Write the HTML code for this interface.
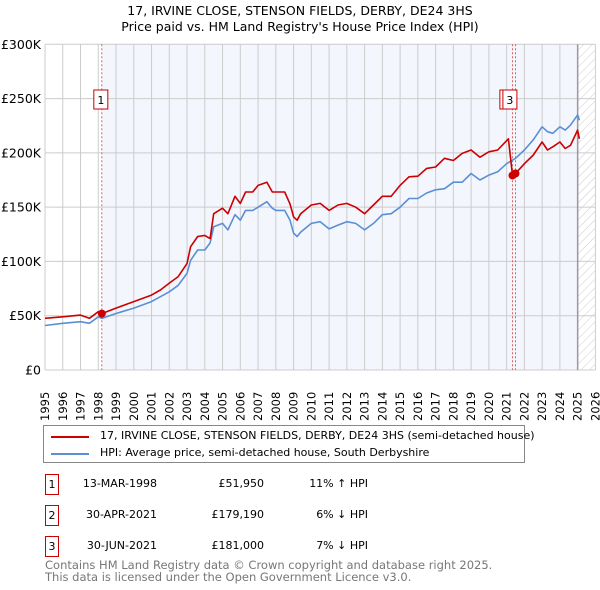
<!DOCTYPE html>
<html><head><meta charset="utf-8"><style>
body{margin:0;background:#fff;font-family:"DejaVu Sans","Liberation Sans",sans-serif;}
#wrap{position:relative;width:600px;height:590px;overflow:hidden;}
.t{position:absolute;white-space:nowrap;color:#000;}
</style></head><body><div id="wrap">
<div class="t" style="left:0;width:600px;text-align:center;top:3px;font-size:12.5px;line-height:16px">17, IRVINE CLOSE, STENSON FIELDS, DERBY, DE24 3HS<br>Price paid vs. HM Land Registry's House Price Index (HPI)</div>
<svg id="chart" width="600" height="425" style="position:absolute;left:0;top:0"></svg>
<div style="position:absolute;left:43px;top:425px;width:480px;height:36px;border:1px solid #888;font-size:11px">
<div style="position:absolute;left:7px;top:10px;width:38px;height:2px;background:#cc0000"></div>
<div class="t" style="left:56px;top:3px">17, IRVINE CLOSE, STENSON FIELDS, DERBY, DE24 3HS (semi-detached house)</div>
<div style="position:absolute;left:7px;top:27px;width:38px;height:2px;background:#5b8fd4"></div>
<div class="t" style="left:56px;top:20px">HPI: Average price, semi-detached house, South Derbyshire</div>
</div>
<div id="tbl"></div>
<div class="t" style="left:45px;top:559px;font-size:11.5px;line-height:12px;color:#777">Contains HM Land Registry data © Crown copyright and database right 2025.<br>This data is licensed under the Open Government Licence v3.0.</div>
</div>
<script>
const hpiYears=[1995,1996,1997,1997.5,1998,1998.2,1999,2000,2000.5,2001,2001.5,2002,2002.5,2003,2003.2,2003.6,2004,2004.3,2004.5,2005,2005.3,2005.7,2006,2006.3,2006.7,2007,2007.5,2007.8,2008,2008.5,2008.8,2009,2009.2,2009.4,2010,2010.5,2011,2011.5,2012,2012.5,2013,2013.5,2014,2014.5,2015,2015.5,2016,2016.5,2017,2017.5,2018,2018.5,2019,2019.5,2020,2020.5,2021,2021.5,2022,2022.5,2023,2023.3,2023.6,2024,2024.3,2024.6,2025,2025.1];
const hpiValues=[41,43,44.5,43,49,47.5,52,57,60,63,67.5,72,78,89,101,110.5,110.5,117,132,135,129,143,138,147,147,150,155,149,147,147,138,126,123,127,135,136.6,130,133.5,136.6,135,129,135,143,144,150,158,158,163,166,167,173,173,181,175,179.5,182.6,190,195,202.6,212,224,219.5,218,224,221,225.6,235,230];
const redYears=[1995,1996,1997,1997.5,1998,1998.2,1999,2000,2001,2001.5,2002,2002.5,2003,2003.2,2003.6,2004,2004.3,2004.5,2005,2005.3,2005.7,2006,2006.3,2006.7,2007,2007.5,2007.8,2008,2008.5,2008.8,2009,2009.2,2009.4,2010,2010.5,2011,2011.5,2012,2012.5,2013,2013.5,2014,2014.5,2015,2015.5,2016,2016.5,2017,2017.5,2018,2018.5,2019,2019.5,2020,2020.5,2021.1,2021.33,2021.5,2022,2022.5,2023,2023.3,2023.6,2024,2024.3,2024.6,2025,2025.1];
const redValues=[47.6,49,50.6,47.6,53.7,51.95,57,63,69,73.7,80,86,98,113.6,123,124,121,144,149,144,160,153.5,164,164,170,173,164,164,164,153,141,138,144,152,153.5,147,152,153.5,150,144,152,160,160,170,178,178.5,185.7,187,195,193,199.5,202.6,196,201,202.6,213,179.19,181,190,198,210,202.6,205.6,210,204,207,221,213];
const saleYears=[1998.2,2021.33,2021.5];
const saleValues=[51.95,179.19,181];
const saleLabels=["1","2","3"];
const saleDates=["13-MAR-1998","30-APR-2021","30-JUN-2021"];
const salePrices=["£51,950","£179,190","£181,000"];
const salePct=["11% ↑ HPI","6% ↓ HPI","7% ↓ HPI"];
const yTicks=[0,50,100,150,200,250,300];
const yTickLabels=["£0","£50K","£100K","£150K","£200K","£250K","£300K"];
const xTicks=[];for(let y=1995;y<=2026;y++)xTicks.push(y);

const X0=45,X1=595.4,Y0=370,Y1=44.3;
const xs=y=>X0+(y-1995)/31*(X1-X0);
const ys=v=>Y0-v/300*(Y0-Y1);
const svg=document.getElementById('chart');const NS='http://www.w3.org/2000/svg';
function mk(tag,attrs,parent){const e=document.createElementNS(NS,tag);for(const k in attrs)e.setAttribute(k,attrs[k]);(parent||svg).appendChild(e);return e;}
const defs=mk('defs',{});
const pat=mk('pattern',{id:'hatch',width:6,height:6,patternUnits:'userSpaceOnUse',patternTransform:'rotate(45)'},defs);
mk('line',{x1:0,y1:0,x2:0,y2:6,stroke:'#ccc','stroke-width':1},pat);
let r=mk('rect',{x:xs(1998.2),y:Y1,width:xs(2025)-xs(1998.2),height:Y0-Y1,fill:'#f3f6fd'});

r=mk('rect',{x:xs(2025),y:Y1,width:X1-xs(2025),height:Y0-Y1,fill:'url(#hatch)'});

xTicks.forEach(t=>{const l=mk('line',{x1:xs(t),x2:xs(t),y1:Y1,y2:Y0,stroke:'#ccc','stroke-width':1});

const tx=mk('text',{x:0,y:0,transform:`translate(${xs(t)+4},${421}) rotate(-90)`,'font-size':11.5,'font-family':'DejaVu Sans, sans-serif'});tx.textContent=t;
});
yTicks.forEach((t,i)=>{const l=mk('line',{x1:X0,x2:X1,y1:ys(t),y2:ys(t),stroke:'#ccc','stroke-width':1});

const tx=mk('text',{x:41,y:ys(t)+4.5,'text-anchor':'end','font-size':12.5,'font-family':'DejaVu Sans, sans-serif'});tx.textContent=yTickLabels[i];
});
let ln=mk('line',{x1:xs(2025),x2:xs(2025),y1:Y1,y2:Y0,stroke:'#999','stroke-width':1.5});

saleYears.forEach(y=>{const l=mk('line',{x1:xs(y),x2:xs(y),y1:Y1,y2:Y0,stroke:'#e06060','stroke-width':1,'stroke-dasharray':'2,2'});
});
function path(xa,va,col,name){const d=xa.map((x,i)=>(i?'L':'M')+xs(x).toFixed(1)+','+ys(va[i]).toFixed(1)).join('');
const p=mk('path',{d,fill:'none',stroke:col,'stroke-width':1.6,'stroke-linejoin':'round'});
}
path(hpiYears,hpiValues,'#5b8fd4','hpi-line');
path(redYears,redValues,'#cc0000','price-paid-line');
saleYears.forEach((y,i)=>{const c=mk('circle',{cx:xs(y),cy:ys(saleValues[i]),r:4,fill:'#cc0000'});
});
const boxOffsets=[-8,-12.6,-12.6];
saleYears.forEach((y,i)=>{const g=mk('g',{});
const x=xs(y)+boxOffsets[i];
mk('rect',{x:x,y:90,width:14,height:19,fill:'#fff',stroke:'#cc0000','stroke-width':1},g);
const t=mk('text',{x:x+7,y:104,'text-anchor':'middle','font-size':11,'font-family':'DejaVu Sans, sans-serif'},g);t.textContent=saleLabels[i];});
const tbl=document.getElementById('tbl');
saleLabels.forEach((s,i)=>{const top=474+i*31;
const row=document.createElement('div');
row.innerHTML=`<div style="position:absolute;left:45px;top:${top}px;width:12px;height:19px;border:1px solid #cc0000;font-size:11px;text-align:center;line-height:19px">${s}</div>
<div class="t" style="left:57px;width:100px;text-align:right;top:${top+3}px;font-size:11px">${saleDates[i]}</div>
<div class="t" style="left:164px;width:100px;text-align:right;top:${top+3}px;font-size:11px">${salePrices[i]}</div>
<div class="t" style="left:268px;width:100px;text-align:right;top:${top+3}px;font-size:11px">${salePct[i]}</div>`;
tbl.appendChild(row);});
</script></body></html>
